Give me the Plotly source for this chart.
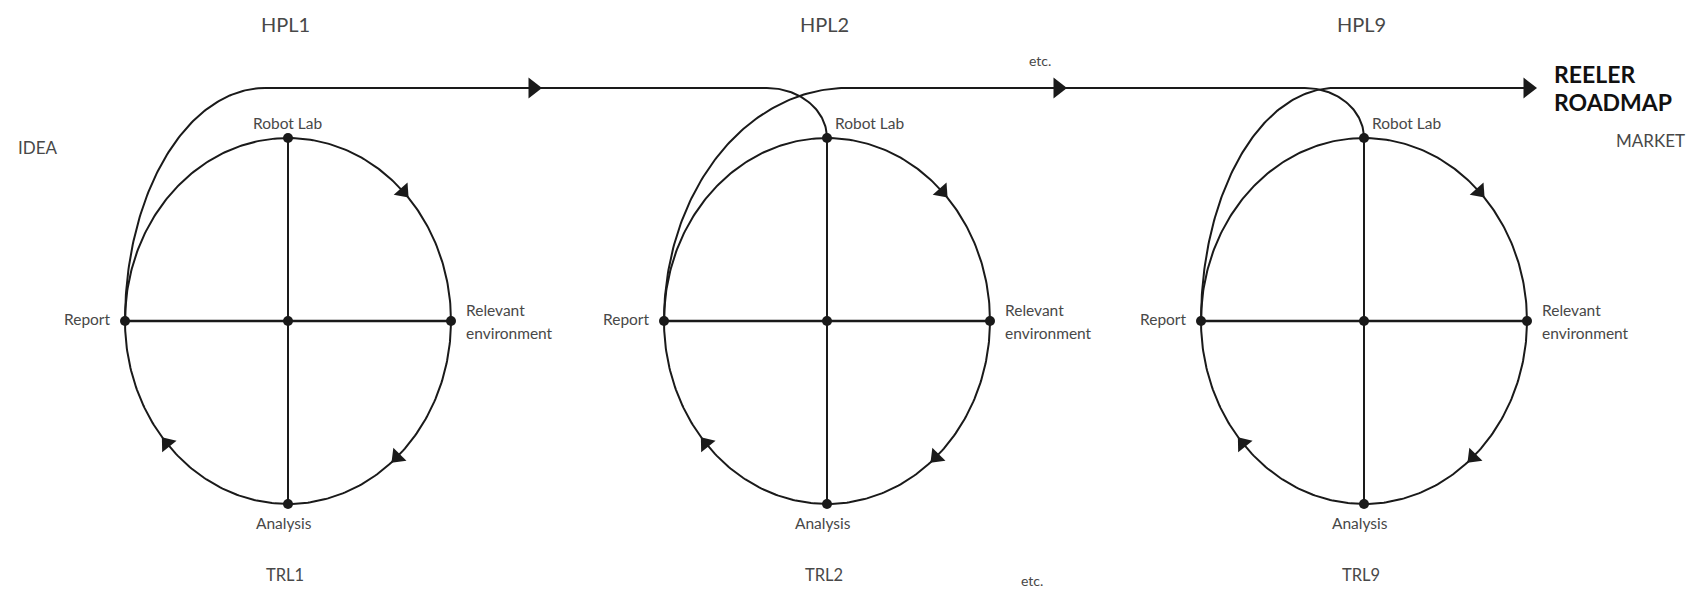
import numpy as np
import plotly.graph_objects as go

# ---- content ----
stages = ["HPL1", "HPL2", "HPL9"]
trls = ["TRL1", "TRL2", "TRL9"]
node_top = "Robot Lab"
node_right = ["Relevant", "environment"]
node_bottom = "Analysis"
node_left = "Report"
start_label = "IDEA"
end_label = "MARKET"
title_lines = ["REELER", "ROADMAP"]
etc_label = "etc."

# ---- layout geometry (pixels) ----
W, H = 1690, 589
cxs = [288, 827, 1364]
cy = 321
rx, ry = 163, 183
line_y = 88
out_end = [265, 847, 1335]
in_start = [None, 767, 1305]
line_arrows = [533, 1058, 1528]
line_end = 1530
circle_arrow_angles = [45, -48, 222]

INK = "#1a1a1a"
TXT = "#484848"
FONT = "Lato, 'Open Sans', sans-serif"
LBL = 15.5

fig = go.Figure()

def add_line(x, y, width=2):
    fig.add_trace(go.Scatter(x=x, y=y, mode="lines",
                             line=dict(color=INK, width=width),
                             hoverinfo="skip", showlegend=False))

t = np.linspace(0, 2 * np.pi, 400)
for i, cx in enumerate(cxs):
    add_line(cx + rx * np.cos(t), cy - ry * np.sin(t))
    add_line([cx - rx, cx + rx], [cy, cy], 2.4)
    add_line([cx, cx], [cy - ry, cy + ry])
    ta = np.linspace(np.pi, np.pi / 2, 100)
    ox = out_end[i]
    add_line(ox + (ox - (cx - rx)) * np.cos(ta), cy - (cy - line_y) * np.sin(ta))
    if in_start[i] is not None:
        sx = in_start[i]
        tb = np.linspace(np.pi / 2, 0, 60)
        top = cy - ry
        add_line(sx + (cx - sx) * np.cos(tb), top - (top - line_y) * np.sin(tb))
    fig.add_trace(go.Scatter(x=[cx, cx + rx, cx, cx - rx, cx],
                             y=[cy - ry, cy, cy + ry, cy, cy],
                             mode="markers",
                             marker=dict(color=INK, size=10),
                             hoverinfo="skip", showlegend=False))
    ax, ay, ang = [], [], []
    for a in circle_arrow_angles:
        r = np.radians(a)
        ax.append(cx + rx * np.cos(r))
        ay.append(cy - ry * np.sin(r))
        vx, vy = rx * np.sin(r), ry * np.cos(r)
        ang.append(float(np.degrees(np.arctan2(vx, -vy))))
    fig.add_trace(go.Scatter(x=ax, y=ay, mode="markers",
                             marker=dict(symbol="triangle-up", size=16,
                                         color=INK, angle=ang),
                             hoverinfo="skip", showlegend=False))

add_line([out_end[0], in_start[1]], [line_y, line_y])
add_line([out_end[1], in_start[2]], [line_y, line_y])
add_line([out_end[2], line_end], [line_y, line_y])
fig.add_trace(go.Scatter(x=line_arrows, y=[line_y] * 3, mode="markers",
                         marker=dict(symbol="triangle-right", size=18, color=INK),
                         hoverinfo="skip", showlegend=False))

ann = []
def txt(x, y, s, size=13, xanchor="center", color=TXT, bold=False):
    ann.append(dict(x=x, y=y, text=(f"<b>{s}</b>" if bold else s),
                    showarrow=False, xanchor=xanchor, yanchor="middle",
                    font=dict(family=FONT, size=size, color=color)))

for i, cx in enumerate(cxs):
    txt(cx - 3, 24, stages[i], 20)
    txt(cx - 3, 575, trls[i], 16.5)
    if i == 0:
        txt(cx, 123, node_top, LBL)
    else:
        txt(cx + 6, 123, node_top, LBL, "left")
    txt(cx - rx - 12, 319, node_left, LBL, "right")
    txt(cx + rx + 13, 310, node_right[0], LBL, "left")
    txt(cx + rx + 13, 333, node_right[1], LBL, "left")
    txt(cx - 4, 523, node_bottom, LBL)

txt(16, 147, start_label, 17, "left")
txt(1687, 140, end_label, 17, "right")
txt(1040, 60, etc_label, 14)
txt(1032, 580, etc_label, 14)
txt(1552, 74, title_lines[0], 23, "left", "#111", True)
txt(1552, 102, title_lines[1], 23, "left", "#111", True)

fig.update_layout(
    width=W, height=H,
    margin=dict(l=0, r=0, t=0, b=0),
    paper_bgcolor="white", plot_bgcolor="white",
    xaxis=dict(range=[0, W], visible=False, fixedrange=True),
    yaxis=dict(range=[H, 0], visible=False, fixedrange=True),
    annotations=ann,
    showlegend=False,
)
fig.write_html(
    "out.html",
    config={"displayModeBar": False, "staticPlot": True},
    post_script="document.body.style.margin='0';document.body.style.overflow='hidden';",
)
